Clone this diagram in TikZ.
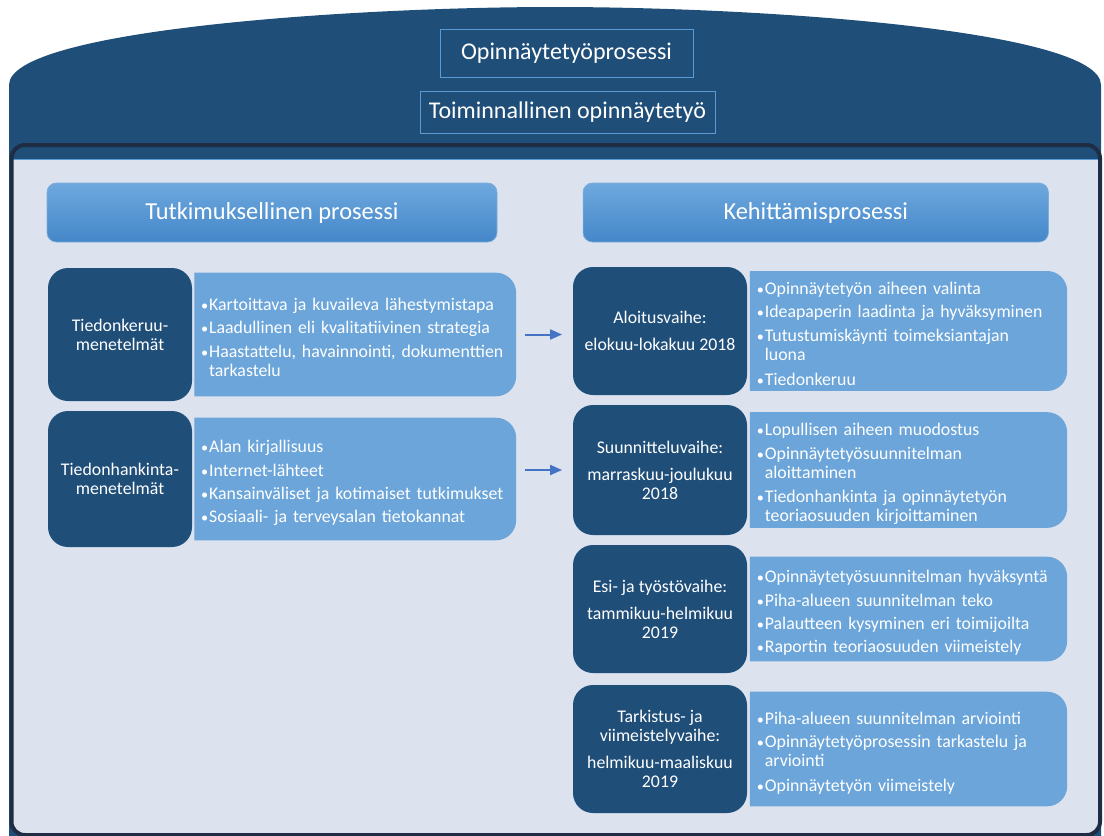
\documentclass[tikz,border=0pt]{standalone}
\usepackage{fontspec}
\setmainfont{Carlito}
\usetikzlibrary{arrows.meta, positioning, backgrounds}

\definecolor{tumma}{HTML}{1F4E79}
\definecolor{reuna}{HTML}{1E2D44}
\definecolor{pohja}{HTML}{DCE2EE}
\definecolor{vaalea}{HTML}{6BA5DA}
\definecolor{otsyla}{HTML}{6EA8DE}
\definecolor{otsala}{HTML}{4487C9}
\definecolor{kehys}{HTML}{5B9BD5}
\definecolor{nuoli}{HTML}{4472C4}

\newlength{\sisennys}
\setlength{\sisennys}{6pt}
\newcommand{\kohta}[1]{\par\noindent\makebox[\sisennys][l]{\scalebox{0.8}{\textbullet}}%
    \parbox[t]{\dimexpr\hsize-\sisennys\relax}{\raggedright\strut#1\strut}}

\begin{document}
\begin{tikzpicture}[x=0.75pt, y=-0.75pt, >={Triangle[length=9pt,width=7.5pt]},
    font=\fontsize{13.35pt}{14.3pt}\selectfont,
    otsikko/.style={draw=kehys, line width=0.75pt, fill=tumma, text=white, inner sep=0pt,
        font=\fontsize{18pt}{22pt}\selectfont},
    paaotsikko/.style={top color=otsyla, bottom color=otsala, draw=kehys!80!white, line width=0.5pt,
        rounded corners=7pt, text=white, minimum height=44.25pt, inner sep=0pt,
        font=\fontsize{18.3pt}{22pt}\selectfont},
    vaihe/.style={fill=tumma, rounded corners=15pt, text=white, align=center, inner sep=0pt},
    lista/.style={text=white, align=left, inner xsep=5pt, inner ysep=0pt,
        execute at begin node=\setlength{\parskip}{3.2pt}}]
    \useasboundingbox (0,0) rectangle (1104,836);
    % tausta
    \begin{scope}[on background layer]
        \fill[tumma] (9,845) -- (9,85) .. controls (9,30) and (350,7) .. (555,7)
            .. controls (760,7) and (1101,30) .. (1101,85) -- (1101,845) -- cycle;
        \fill[pohja, rounded corners=10pt] (12,145) rectangle (1100,835);
        \fill[tumma] (12,145) rectangle (1100,159);
        \draw[kehys, line width=0.75pt] (13,159) -- (1099,159);
        \draw[reuna, line width=3pt, rounded corners=10pt] (11.5,145) rectangle (1100,835);
    \end{scope}

    \node[otsikko, minimum width=189.75pt, minimum height=36pt] (prosessi) at (566.5,53) {Opinnäytetyöprosessi};
    \node[otsikko, minimum width=221.25pt, minimum height=31.5pt] (toiminnallinen) at (567.5,112) {Toiminnallinen opinnäytetyö};

    \node[paaotsikko, minimum width=337.5pt] (tutkimus) at (272,212.5) {Tutkimuksellinen prosessi};
    \node[paaotsikko, minimum width=349pt] (kehitys) at (815.75,212.5) {Kehittämisprosessi};

    % tutkimuksellinen puoli
    \node[vaihe, minimum width=108pt, minimum height=99.75pt] (keruu) at (120,334.5) {Tiedonkeruu-\\menetelmät};
    \node[vaihe, minimum width=108pt, minimum height=102pt] (hankinta) at (120,479) {Tiedonhankinta-\\menetelmät};
    \node[lista, text width=231pt, minimum height=92.25pt, right=1.5pt of keruu] (keruulista) {%
        \kohta{Kartoittava ja kuvaileva lähestymistapa}
        \kohta{Laadullinen eli kvalitatiivinen strategia}
        \kohta{Haastattelu, havainnointi, dokumenttien\\tarkastelu}};
    \node[lista, text width=231pt, minimum height=91.5pt, right=1.5pt of hankinta] (hankintalista) {%
        \kohta{Alan kirjallisuus}
        \kohta{Internet-lähteet}
        \kohta{Kansainväliset ja kotimaiset tutkimukset}
        \kohta{Sosiaali- ja terveysalan tietokannat}};

    % kehittamisprosessin vaiheet
    \node[vaihe, minimum width=130.5pt, minimum height=96pt] (aloitus) at (660,331) {Aloitusvaihe:\\[6pt]elokuu-lokakuu 2018};
    \node[vaihe, minimum width=130.5pt, minimum height=97.5pt] (suunnittelu) at (660,470) {Suunnitteluvaihe:\\[6pt]marraskuu-joulukuu\\2018};
    \node[vaihe, minimum width=130.5pt, minimum height=96pt] (tyosto) at (660,609) {Esi- ja työstövaihe:\\[6pt]tammikuu-helmikuu\\2019};
    \node[vaihe, minimum width=130.5pt, minimum height=96pt] (tarkistus) at (660,749) {Tarkistus- ja\\viimeistelyvaihe:\\[6pt]helmikuu-maaliskuu\\2019};

    \node[lista, text width=227.5pt, minimum height=85.5pt, right=2pt of aloitus] (aloituslista) {%
        \kohta{Opinnäytetyön aiheen valinta}
        \kohta{Ideapaperin laadinta ja hyväksyminen}
        \kohta{Tutustumiskäynti toimeksiantajan\\luona}
        \kohta{Tiedonkeruu}};
    \node[lista, text width=227.5pt, minimum height=77.25pt, right=2pt of suunnittelu] (suunnittelulista) {%
        \kohta{Lopullisen aiheen muodostus}
        \kohta{Opinnäytetyösuunnitelman\\aloittaminen}
        \kohta{Tiedonhankinta ja opinnäytetyön\\teoriaosuuden kirjoittaminen}};
    \node[lista, text width=227.5pt, minimum height=78pt, right=2pt of tyosto] (tyostolista) {%
        \kohta{Opinnäytetyösuunnitelman hyväksyntä}
        \kohta{Piha-alueen suunnitelman teko}
        \kohta{Palautteen kysyminen eri toimijoilta}
        \kohta{Raportin teoriaosuuden viimeistely}};
    \node[lista, text width=227.5pt, minimum height=85.5pt, right=2pt of tarkistus] (tarkistuslista) {%
        \kohta{Piha-alueen suunnitelman arviointi}
        \kohta{Opinnäytetyöprosessin tarkastelu ja\\arviointi}
        \kohta{Opinnäytetyön viimeistely}};

    \begin{scope}[on background layer]
        \foreach \n in {keruulista, hankintalista, aloituslista, suunnittelulista, tyostolista, tarkistuslista}
            \fill[vaalea, rounded corners=15pt] (\n.north west) -- (\n.north east) -- (\n.south east) -- (\n.south west);
    \end{scope}

    \draw[nuoli, line width=1.5pt, ->, shorten <=7pt, shorten >=8pt] (keruulista.east) -- (keruulista.east -| aloitus.west);
    \draw[nuoli, line width=1.5pt, ->, shorten <=7pt, shorten >=8pt] (suunnittelu.west -| hankintalista.east) -- (suunnittelu.west);
\end{tikzpicture}
\end{document}
